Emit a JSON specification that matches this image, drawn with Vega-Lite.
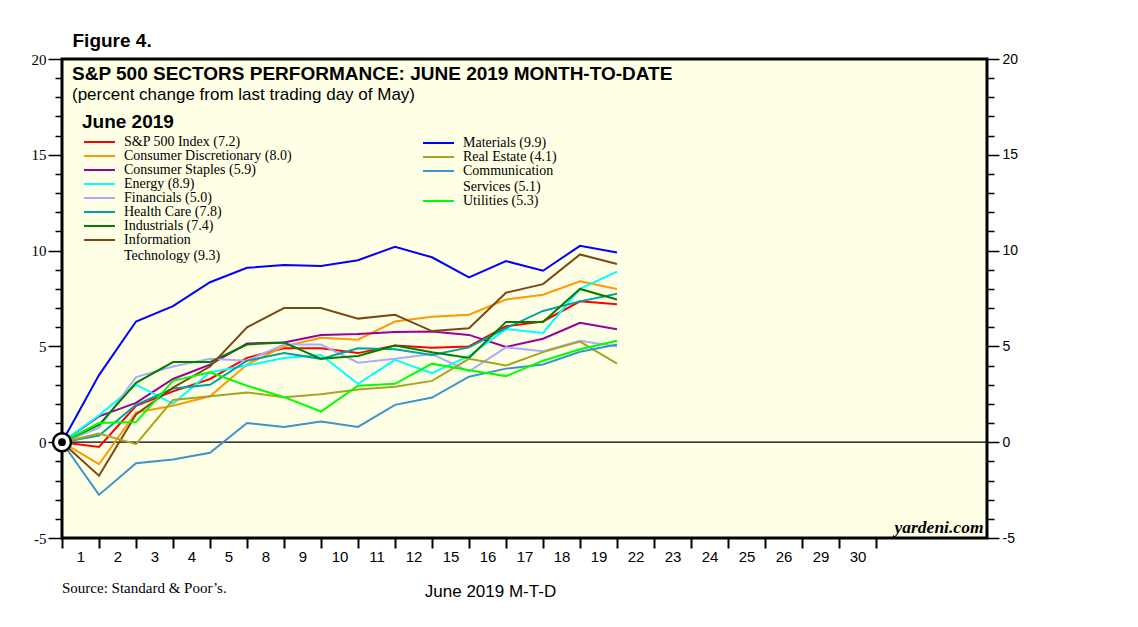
{
  "$schema": "https://vega.github.io/schema/vega-lite/v6.json",
  "width": 925,
  "height": 479,
  "autosize": {"type": "none"},
  "padding": {"left": 62, "top": 59, "right": 151, "bottom": 89},
  "background": "white",
  "config": {"view": {"fill": "#FFFFE6", "stroke": "black", "strokeWidth": 3}},
  "title": {
    "text": "S&P 500 SECTORS PERFORMANCE: JUNE 2019 MONTH-TO-DATE",
    "subtitle": "(percent change from last trading day of May)",
    "anchor": "start", "frame": "group", "orient": "top", "offset": 0,
    "dx": 10, "dy": 72,
    "font": "Liberation Sans", "fontSize": 19, "fontWeight": "bold", "color": "black",
    "subtitleFont": "Liberation Sans", "subtitleFontSize": 17, "subtitleColor": "black", "subtitlePadding": 3
  },
  "datasets": {
    "d": [
      {"s":"S&P 500 Index (7.2)","t":0,"v":0},{"s":"S&P 500 Index (7.2)","t":1,"v":-0.25},{"s":"S&P 500 Index (7.2)","t":2,"v":1.9},{"s":"S&P 500 Index (7.2)","t":3,"v":2.65},{"s":"S&P 500 Index (7.2)","t":4,"v":3.3},{"s":"S&P 500 Index (7.2)","t":5,"v":4.4},{"s":"S&P 500 Index (7.2)","t":6,"v":4.9},{"s":"S&P 500 Index (7.2)","t":7,"v":4.9},{"s":"S&P 500 Index (7.2)","t":8,"v":4.65},{"s":"S&P 500 Index (7.2)","t":9,"v":5.05},{"s":"S&P 500 Index (7.2)","t":10,"v":4.93},{"s":"S&P 500 Index (7.2)","t":11,"v":5.0},{"s":"S&P 500 Index (7.2)","t":12,"v":6.05},{"s":"S&P 500 Index (7.2)","t":13,"v":6.3},{"s":"S&P 500 Index (7.2)","t":14,"v":7.35},{"s":"S&P 500 Index (7.2)","t":15,"v":7.2},
      {"s":"Consumer Discretionary (8.0)","t":0,"v":0},{"s":"Consumer Discretionary (8.0)","t":1,"v":-1.15},{"s":"Consumer Discretionary (8.0)","t":2,"v":1.55},{"s":"Consumer Discretionary (8.0)","t":3,"v":1.9},{"s":"Consumer Discretionary (8.0)","t":4,"v":2.4},{"s":"Consumer Discretionary (8.0)","t":5,"v":4.05},{"s":"Consumer Discretionary (8.0)","t":6,"v":5.0},{"s":"Consumer Discretionary (8.0)","t":7,"v":5.45},{"s":"Consumer Discretionary (8.0)","t":8,"v":5.35},{"s":"Consumer Discretionary (8.0)","t":9,"v":6.3},{"s":"Consumer Discretionary (8.0)","t":10,"v":6.55},{"s":"Consumer Discretionary (8.0)","t":11,"v":6.65},{"s":"Consumer Discretionary (8.0)","t":12,"v":7.45},{"s":"Consumer Discretionary (8.0)","t":13,"v":7.7},{"s":"Consumer Discretionary (8.0)","t":14,"v":8.4},{"s":"Consumer Discretionary (8.0)","t":15,"v":8.0},
      {"s":"Consumer Staples (5.9)","t":0,"v":0},{"s":"Consumer Staples (5.9)","t":1,"v":1.35},{"s":"Consumer Staples (5.9)","t":2,"v":2.05},{"s":"Consumer Staples (5.9)","t":3,"v":3.3},{"s":"Consumer Staples (5.9)","t":4,"v":4.05},{"s":"Consumer Staples (5.9)","t":5,"v":5.15},{"s":"Consumer Staples (5.9)","t":6,"v":5.2},{"s":"Consumer Staples (5.9)","t":7,"v":5.6},{"s":"Consumer Staples (5.9)","t":8,"v":5.65},{"s":"Consumer Staples (5.9)","t":9,"v":5.75},{"s":"Consumer Staples (5.9)","t":10,"v":5.78},{"s":"Consumer Staples (5.9)","t":11,"v":5.6},{"s":"Consumer Staples (5.9)","t":12,"v":4.97},{"s":"Consumer Staples (5.9)","t":13,"v":5.4},{"s":"Consumer Staples (5.9)","t":14,"v":6.23},{"s":"Consumer Staples (5.9)","t":15,"v":5.9},
      {"s":"Energy (8.9)","t":0,"v":0},{"s":"Energy (8.9)","t":1,"v":1.4},{"s":"Energy (8.9)","t":2,"v":3.0},{"s":"Energy (8.9)","t":3,"v":2.0},{"s":"Energy (8.9)","t":4,"v":3.65},{"s":"Energy (8.9)","t":5,"v":4.0},{"s":"Energy (8.9)","t":6,"v":4.4},{"s":"Energy (8.9)","t":7,"v":4.55},{"s":"Energy (8.9)","t":8,"v":3.05},{"s":"Energy (8.9)","t":9,"v":4.3},{"s":"Energy (8.9)","t":10,"v":3.6},{"s":"Energy (8.9)","t":11,"v":4.5},{"s":"Energy (8.9)","t":12,"v":5.9},{"s":"Energy (8.9)","t":13,"v":5.7},{"s":"Energy (8.9)","t":14,"v":8.0},{"s":"Energy (8.9)","t":15,"v":8.9},
      {"s":"Financials (5.0)","t":0,"v":0},{"s":"Financials (5.0)","t":1,"v":0.75},{"s":"Financials (5.0)","t":2,"v":3.4},{"s":"Financials (5.0)","t":3,"v":3.95},{"s":"Financials (5.0)","t":4,"v":4.35},{"s":"Financials (5.0)","t":5,"v":4.25},{"s":"Financials (5.0)","t":6,"v":5.1},{"s":"Financials (5.0)","t":7,"v":5.1},{"s":"Financials (5.0)","t":8,"v":4.15},{"s":"Financials (5.0)","t":9,"v":4.35},{"s":"Financials (5.0)","t":10,"v":4.6},{"s":"Financials (5.0)","t":11,"v":3.7},{"s":"Financials (5.0)","t":12,"v":4.95},{"s":"Financials (5.0)","t":13,"v":4.75},{"s":"Financials (5.0)","t":14,"v":5.3},{"s":"Financials (5.0)","t":15,"v":5.0},
      {"s":"Health Care (7.8)","t":0,"v":0},{"s":"Health Care (7.8)","t":1,"v":0.35},{"s":"Health Care (7.8)","t":2,"v":1.95},{"s":"Health Care (7.8)","t":3,"v":2.8},{"s":"Health Care (7.8)","t":4,"v":3.0},{"s":"Health Care (7.8)","t":5,"v":4.25},{"s":"Health Care (7.8)","t":6,"v":4.65},{"s":"Health Care (7.8)","t":7,"v":4.35},{"s":"Health Care (7.8)","t":8,"v":4.9},{"s":"Health Care (7.8)","t":9,"v":4.85},{"s":"Health Care (7.8)","t":10,"v":4.55},{"s":"Health Care (7.8)","t":11,"v":4.95},{"s":"Health Care (7.8)","t":12,"v":5.95},{"s":"Health Care (7.8)","t":13,"v":6.85},{"s":"Health Care (7.8)","t":14,"v":7.35},{"s":"Health Care (7.8)","t":15,"v":7.75},
      {"s":"Industrials (7.4)","t":0,"v":0},{"s":"Industrials (7.4)","t":1,"v":0.9},{"s":"Industrials (7.4)","t":2,"v":3.1},{"s":"Industrials (7.4)","t":3,"v":4.18},{"s":"Industrials (7.4)","t":4,"v":4.18},{"s":"Industrials (7.4)","t":5,"v":5.1},{"s":"Industrials (7.4)","t":6,"v":5.2},{"s":"Industrials (7.4)","t":7,"v":4.35},{"s":"Industrials (7.4)","t":8,"v":4.5},{"s":"Industrials (7.4)","t":9,"v":5.05},{"s":"Industrials (7.4)","t":10,"v":4.7},{"s":"Industrials (7.4)","t":11,"v":4.4},{"s":"Industrials (7.4)","t":12,"v":6.28},{"s":"Industrials (7.4)","t":13,"v":6.28},{"s":"Industrials (7.4)","t":14,"v":8.0},{"s":"Industrials (7.4)","t":15,"v":7.45},
      {"s":"Information Technology (9.3)","t":0,"v":0},{"s":"Information Technology (9.3)","t":1,"v":-1.75},{"s":"Information Technology (9.3)","t":2,"v":1.45},{"s":"Information Technology (9.3)","t":3,"v":2.85},{"s":"Information Technology (9.3)","t":4,"v":3.95},{"s":"Information Technology (9.3)","t":5,"v":6.0},{"s":"Information Technology (9.3)","t":6,"v":7.0},{"s":"Information Technology (9.3)","t":7,"v":7.0},{"s":"Information Technology (9.3)","t":8,"v":6.45},{"s":"Information Technology (9.3)","t":9,"v":6.65},{"s":"Information Technology (9.3)","t":10,"v":5.8},{"s":"Information Technology (9.3)","t":11,"v":5.95},{"s":"Information Technology (9.3)","t":12,"v":7.8},{"s":"Information Technology (9.3)","t":13,"v":8.25},{"s":"Information Technology (9.3)","t":14,"v":9.8},{"s":"Information Technology (9.3)","t":15,"v":9.3},
      {"s":"Materials (9.9)","t":0,"v":0},{"s":"Materials (9.9)","t":1,"v":3.5},{"s":"Materials (9.9)","t":2,"v":6.3},{"s":"Materials (9.9)","t":3,"v":7.1},{"s":"Materials (9.9)","t":4,"v":8.35},{"s":"Materials (9.9)","t":5,"v":9.1},{"s":"Materials (9.9)","t":6,"v":9.25},{"s":"Materials (9.9)","t":7,"v":9.2},{"s":"Materials (9.9)","t":8,"v":9.5},{"s":"Materials (9.9)","t":9,"v":10.2},{"s":"Materials (9.9)","t":10,"v":9.65},{"s":"Materials (9.9)","t":11,"v":8.6},{"s":"Materials (9.9)","t":12,"v":9.45},{"s":"Materials (9.9)","t":13,"v":8.95},{"s":"Materials (9.9)","t":14,"v":10.25},{"s":"Materials (9.9)","t":15,"v":9.9},
      {"s":"Real Estate (4.1)","t":0,"v":0},{"s":"Real Estate (4.1)","t":1,"v":0.45},{"s":"Real Estate (4.1)","t":2,"v":-0.1},{"s":"Real Estate (4.1)","t":3,"v":2.2},{"s":"Real Estate (4.1)","t":4,"v":2.4},{"s":"Real Estate (4.1)","t":5,"v":2.6},{"s":"Real Estate (4.1)","t":6,"v":2.35},{"s":"Real Estate (4.1)","t":7,"v":2.5},{"s":"Real Estate (4.1)","t":8,"v":2.75},{"s":"Real Estate (4.1)","t":9,"v":2.9},{"s":"Real Estate (4.1)","t":10,"v":3.2},{"s":"Real Estate (4.1)","t":11,"v":4.35},{"s":"Real Estate (4.1)","t":12,"v":4.0},{"s":"Real Estate (4.1)","t":13,"v":4.7},{"s":"Real Estate (4.1)","t":14,"v":5.25},{"s":"Real Estate (4.1)","t":15,"v":4.1},
      {"s":"Communication Services (5.1)","t":0,"v":0},{"s":"Communication Services (5.1)","t":1,"v":-2.75},{"s":"Communication Services (5.1)","t":2,"v":-1.1},{"s":"Communication Services (5.1)","t":3,"v":-0.9},{"s":"Communication Services (5.1)","t":4,"v":-0.55},{"s":"Communication Services (5.1)","t":5,"v":1.0},{"s":"Communication Services (5.1)","t":6,"v":0.8},{"s":"Communication Services (5.1)","t":7,"v":1.08},{"s":"Communication Services (5.1)","t":8,"v":0.8},{"s":"Communication Services (5.1)","t":9,"v":1.95},{"s":"Communication Services (5.1)","t":10,"v":2.33},{"s":"Communication Services (5.1)","t":11,"v":3.42},{"s":"Communication Services (5.1)","t":12,"v":3.84},{"s":"Communication Services (5.1)","t":13,"v":4.06},{"s":"Communication Services (5.1)","t":14,"v":4.72},{"s":"Communication Services (5.1)","t":15,"v":5.1},
      {"s":"Utilities (5.3)","t":0,"v":0},{"s":"Utilities (5.3)","t":1,"v":1.0},{"s":"Utilities (5.3)","t":2,"v":1.05},{"s":"Utilities (5.3)","t":3,"v":3.2},{"s":"Utilities (5.3)","t":4,"v":3.65},{"s":"Utilities (5.3)","t":5,"v":2.95},{"s":"Utilities (5.3)","t":6,"v":2.35},{"s":"Utilities (5.3)","t":7,"v":1.6},{"s":"Utilities (5.3)","t":8,"v":2.95},{"s":"Utilities (5.3)","t":9,"v":3.05},{"s":"Utilities (5.3)","t":10,"v":4.1},{"s":"Utilities (5.3)","t":11,"v":3.75},{"s":"Utilities (5.3)","t":12,"v":3.45},{"s":"Utilities (5.3)","t":13,"v":4.25},{"s":"Utilities (5.3)","t":14,"v":4.85},{"s":"Utilities (5.3)","t":15,"v":5.3}
    ]
  },
  "resolve": {"scale": {"x": "shared", "y": "shared"}, "axis": {"x": "independent", "y": "independent"}},
  "layer": [
    {
      "data": {"values": [{"v": 0}]},
      "mark": {"type": "rule", "color": "black", "strokeWidth": 1.2},
      "encoding": {
        "y": {"field": "v", "type": "quantitative", "scale": {"domain": [-5, 20], "nice": false}, "axis": null}
      }
    },
    {
      "data": {"name": "d"},
      "transform": [{"filter": {"field": "s", "oneOf": ["S&P 500 Index (7.2)", "Consumer Discretionary (8.0)", "Consumer Staples (5.9)", "Energy (8.9)", "Financials (5.0)", "Health Care (7.8)", "Industrials (7.4)", "Information Technology (9.3)"]}}],
      "mark": {"type": "line", "strokeWidth": 2},
      "encoding": {
        "x": {
          "field": "t", "type": "quantitative",
          "scale": {"domain": [0, 25], "nice": false, "zero": false},
          "axis": {
            "orient": "bottom",
            "values": [0,0.5,1,1.5,2,2.5,3,3.5,4,4.5,5,5.5,6,6.5,7,7.5,8,8.5,9,9.5,10,10.5,11,11.5,12,12.5,13,13.5,14,14.5,15,15.5,16,16.5,17,17.5,18,18.5,19,19.5,20,20.5,21,21.5,22],
            "domain": false, "grid": false,
            "tickSize": 10, "tickWidth": 2, "tickColor": "black",
            "tickOpacity": {"condition": {"test": "datum.value % 1 !== 0", "value": 0}, "value": 1},
            "labelExpr": "datum.value % 1 === 0 ? '' : ['1','2','3','4','5','8','9','10','11','12','15','16','17','18','19','22','23','24','25','26','29','30'][floor(datum.value)]",
            "labelFont": "Liberation Sans", "labelFontSize": 15, "labelColor": "black",
            "labelPadding": 1, "labelOverlap": false, "labelFlush": false,
            "title": "June 2019 M-T-D", "titleFont": "Liberation Sans", "titleFontSize": 17,
            "titleFontWeight": "normal", "titleColor": "black",
            "titleX": 428, "titleY": 58, "titleAlign": "center", "titleBaseline": "alphabetic", "titleAngle": 0
          }
        },
        "y": {
          "field": "v", "type": "quantitative",
          "scale": {"domain": [-5, 20], "nice": false},
          "axis": {
            "orient": "left",
            "values": [-5,-4,-3,-2,-1,0,1,2,3,4,5,6,7,8,9,10,11,12,13,14,15,16,17,18,19,20],
            "domain": false, "grid": false,
            "tickSize": {"condition": {"test": "datum.value % 5 === 0", "value": 14}, "value": 7},
            "tickWidth": 1.5, "tickColor": "black",
            "labelExpr": "datum.value % 5 === 0 ? '' + datum.value : ''",
            "labelFont": "Liberation Serif", "labelFontSize": 15, "labelColor": "black", "labelPadding": 2,
            "labelOverlap": false, "labelFlush": false,
            "title": "Figure 4.", "titleFont": "Liberation Sans", "titleFontSize": 19, "titleFontWeight": "bold",
            "titleColor": "black", "titleAngle": 0, "titleX": 10, "titleY": -13,
            "titleAlign": "left", "titleBaseline": "alphabetic"
          }
        },
        "color": {
          "field": "s", "type": "nominal",
          "scale": {
            "domain": ["S&P 500 Index (7.2)", "Consumer Discretionary (8.0)", "Consumer Staples (5.9)", "Energy (8.9)", "Financials (5.0)", "Health Care (7.8)", "Industrials (7.4)", "Information Technology (9.3)"],
            "range": ["#FF0000", "#FF9900", "#990099", "#00FFFF", "#AAAAFF", "#00A3A3", "#008000", "#7B4A12"]
          },
          "legend": {
            "orient": "none", "legendX": 20, "legendY": 54, "padding": 0,
            "title": "June 2019", "titleFont": "Liberation Sans", "titleFontSize": 19, "titleFontWeight": "bold",
            "titleColor": "black", "titlePadding": 3,
            "labelFont": "Liberation Serif", "labelFontSize": 14, "labelColor": "black", "labelLimit": 400,
            "symbolType": "M-1,0H5.2", "symbolSize": 100, "symbolStrokeWidth": 2,
            "labelOffset": 28, "rowPadding": 0,
            "labelExpr": "datum.label == 'Information Technology (9.3)' ? ['Information', 'Technology (9.3)'] : datum.label"
          }
        }
      }
    },
    {
      "data": {"name": "d"},
      "transform": [{"filter": {"field": "s", "oneOf": ["Materials (9.9)", "Real Estate (4.1)", "Communication Services (5.1)", "Utilities (5.3)"]}}],
      "mark": {"type": "line", "strokeWidth": 2},
      "encoding": {
        "x": {"field": "t", "type": "quantitative", "scale": {"domain": [0, 25], "nice": false, "zero": false}, "axis": null},
        "y": {
          "field": "v", "type": "quantitative",
          "scale": {"domain": [-5, 20], "nice": false},
          "axis": {
            "orient": "right",
            "values": [-5,-4,-3,-2,-1,0,1,2,3,4,5,6,7,8,9,10,11,12,13,14,15,16,17,18,19,20],
            "domain": false, "grid": false,
            "tickSize": {"condition": {"test": "datum.value % 5 === 0", "value": 12}, "value": 7},
            "tickWidth": 1.5, "tickColor": "black",
            "labelExpr": "datum.value % 5 === 0 ? '' + datum.value : ''",
            "labelFont": "Liberation Sans", "labelFontSize": 14, "labelColor": "black", "labelPadding": 3,
            "labelOverlap": false, "labelFlush": false,
            "title": "yardeni.com", "titleFont": "Liberation Serif", "titleFontSize": 17.5, "titleFontWeight": "bold",
            "titleFontStyle": "italic", "titleColor": "black", "titleAngle": 0, "titleX": -4, "titleY": 473,
            "titleAlign": "right", "titleBaseline": "alphabetic"
          }
        },
        "stroke": {
          "field": "s", "type": "nominal",
          "scale": {
            "domain": ["Materials (9.9)", "Real Estate (4.1)", "Communication Services (5.1)", "Utilities (5.3)"],
            "range": ["#0000FF", "#A9A520", "#3D94CC", "#00FF00"]
          },
          "legend": {
            "orient": "none", "legendX": 359, "legendY": 77, "padding": 0,
            "title": null,
            "labelFont": "Liberation Serif", "labelFontSize": 14, "labelColor": "black", "labelLimit": 400,
            "symbolType": "M-1,0H5.2", "symbolSize": 100, "symbolStrokeWidth": 2,
            "labelOffset": 28, "rowPadding": 0,
            "labelExpr": "datum.label == 'Communication Services (5.1)' ? ['Communication', 'Services (5.1)'] : datum.label"
          }
        }
      }
    },
    {
      "data": {"values": [{"t": 0, "v": 0}]},
      "mark": {"type": "point", "shape": "circle", "filled": true, "fill": "white", "stroke": "black", "strokeWidth": 2.5, "size": 324, "opacity": 1},
      "encoding": {
        "x": {"field": "t", "type": "quantitative", "axis": null},
        "y": {"field": "v", "type": "quantitative", "axis": null}
      }
    },
    {
      "data": {"values": [{"t": 0, "v": 0}]},
      "mark": {"type": "circle", "color": "black", "size": 60, "opacity": 1},
      "encoding": {
        "x": {"field": "t", "type": "quantitative", "axis": null},
        "y": {"field": "v", "type": "quantitative", "axis": null}
      }
    },
    {
      "data": {"values": [{"note": "Source: Standard & Poor\u2019s."}]},
      "mark": {"type": "text", "align": "left", "baseline": "alphabetic", "font": "Liberation Serif", "fontSize": 15, "color": "black"},
      "encoding": {
        "x": {"datum": 0, "type": "quantitative", "axis": null},
        "y": {"datum": -7.86, "type": "quantitative", "axis": null},
        "text": {"field": "note"}
      }
    }
  ]
}
